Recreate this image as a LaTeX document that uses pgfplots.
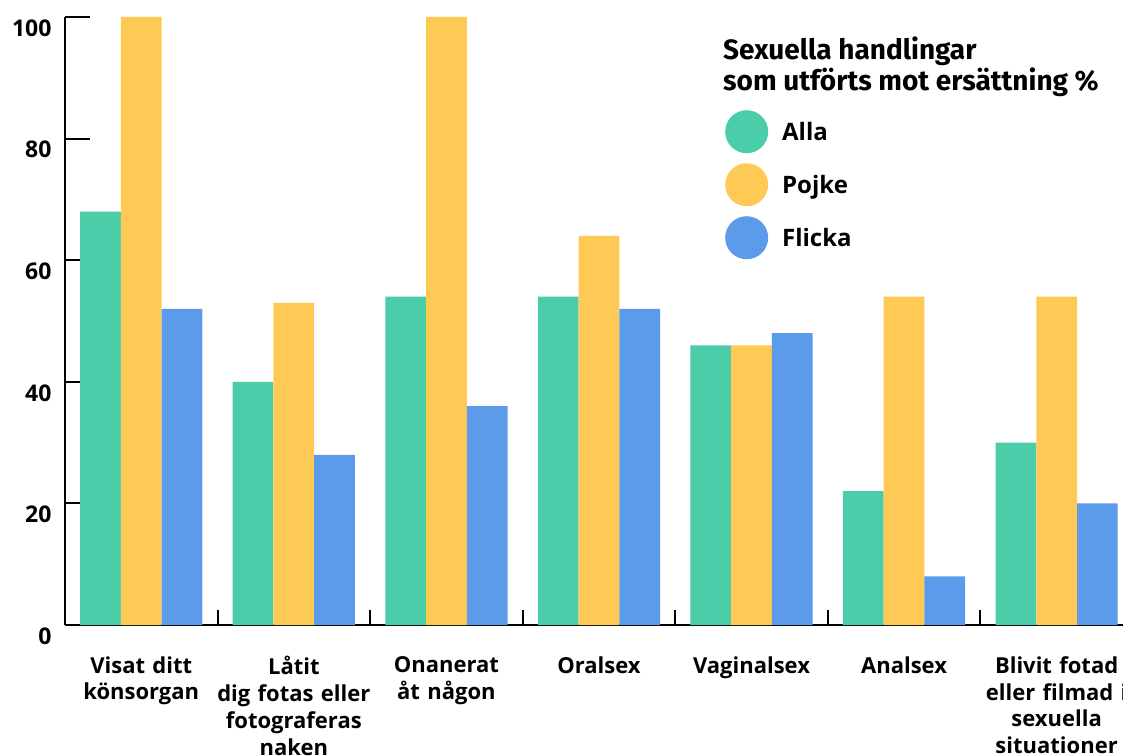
\documentclass[border=0pt]{standalone}
\usepackage{fontspec}
\setmainfont{Open Sans}
\newfontfamily\titlefont{Fira Sans}
\usepackage{pgfplots}
\pgfplotsset{compat=1.18}
\definecolor{alla}{HTML}{4CCDAA}
\definecolor{pojke}{HTML}{FFC956}
\definecolor{flicka}{HTML}{5C9AEA}

\begin{document}
\begin{tikzpicture}
\path[use as bounding box] (0pt,0pt) rectangle (1123pt,755pt);
\begin{axis}[
  at={(65pt,130pt)}, anchor=south west,
  scale only axis, width=1058pt, height=608pt,
  xmin=-0.5, xmax=6.435, ymin=0, ymax=100,
  axis x line=bottom, axis y line=left,
  axis line style={line width=2pt,-},
  ybar=0pt, bar width=0.267,
  ytick={0,20,40,60,80,100},
  xtick={0,...,6},
  xticklabels={{Visat ditt\\könsorgan},{Låtit\\dig fotas eller\\fotograferas\\naken},{Onanerat\\åt någon},{Oralsex},{Vaginalsex},{Analsex},{Blivit fotad\\eller filmad i\\sexuella\\situationer}},
  minor xtick={0.5,1.5,2.5,3.5,4.5,5.5},
  tick align=inside,
  major x tick style={draw=none},
  minor x tick style={line width=2pt, black},
  major y tick style={line width=2pt, black},
  minor tick length=15pt,
  major tick length=25pt,
  /pgf/number format/assume math mode=true,
  yticklabel style={font=\bfseries\fontsize{23}{23}\selectfont, xshift=-10pt, yshift=-11pt},
  xticklabel style={font=\bfseries\fontsize{22}{26.7}\selectfont, text width=160pt, align=center, yshift=-28pt},
  legend style={at={(0.6238,0.847)}, anchor=north west, draw=none, fill=none, inner sep=0pt,
    row sep=10pt, font=\bfseries\fontsize{24}{24}\selectfont,
    nodes={inner sep=0pt}},
  legend cell align=left,
  legend image code/.code={\fill[#1] (21.5pt,0.7pt) circle (21.5pt); \path (57pt,0.7pt);},
]
\addplot[draw=none, fill=alla] coordinates {(0,68) (1,40) (2,54) (3,54) (4,46) (5,22) (6,30)};
\addlegendentry{Alla}
\addplot[draw=none, fill=pojke] coordinates {(0,100) (1,53) (2,100) (3,64) (4,46) (5,54) (6,54)};
\addlegendentry{Pojke}
\addplot[draw=none, fill=flicka] coordinates {(0,52) (1,28) (2,36) (3,52) (4,48) (5,8) (6,20)};
\addlegendentry{Flicka}
\end{axis}
\node[anchor=base west, font=\titlefont\bfseries\fontsize{28}{28}\selectfont, inner sep=0pt] at (723pt,695.5pt) {Sexuella handlingar};
\node[anchor=base west, font=\titlefont\bfseries\fontsize{28}{28}\selectfont, inner sep=0pt] at (723pt,664.3pt) {som utförts mot ersättning \%};
\end{tikzpicture}
\end{document}
